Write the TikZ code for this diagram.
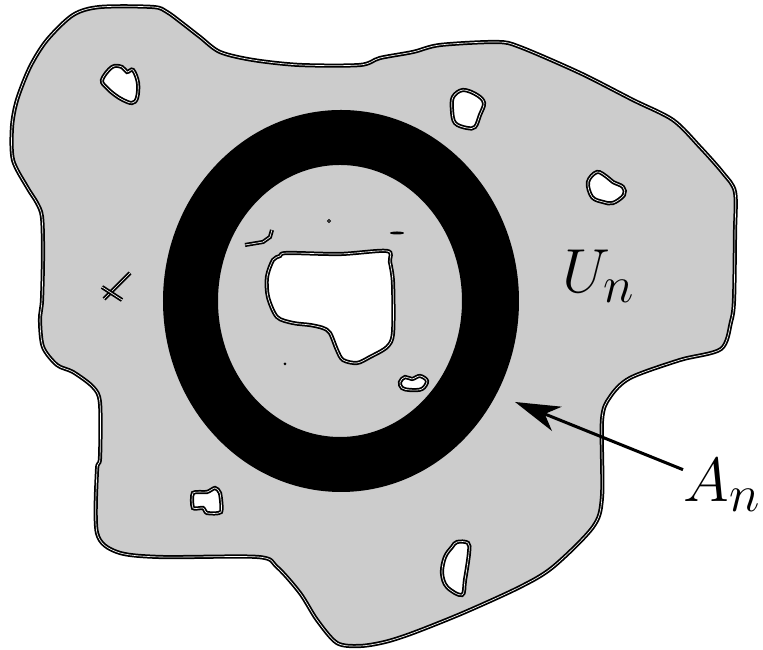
\documentclass[tikz,border=0pt]{standalone}
\usepackage{amsmath}
\usepackage{xcolor}
\usepackage{tikz}
\usetikzlibrary{
	arrows.meta,
	positioning
}
\definecolor{RegionGray}{RGB}{204,204,204}
\tikzset{
	rough edge/.style={draw=black, line width=0.7pt, double=white, double distance=0.25pt},
	gap/.style={rough edge, fill=white},
	label font/.style={inner sep=0pt, anchor=base west, font=\fontsize{29.5}{35}\selectfont}
}

\begin{document}
\begin{tikzpicture}[x=0.4pt, y=-0.4pt]
		\useasboundingbox (0,0) rectangle (763,650);
		\draw[rough edge, fill=RegionGray] plot[smooth cycle, tension=0.5] coordinates {
			(47,40) (73,15) (100,7) (153,7) (167,12) (182,23) (200,37) (220,52) (253,60) (300,65)
			(360,65) (380,58) (413,52) (440,45) (497,42) (520,47) (580,73) (633,100) (673,120)
			(700,147) (723,173) (735,192) (735,233) (734,300) (731,322) (721,349) (680,360)
			(630,378) (610,397) (602,420) (602,497) (593,527) (553,567) (520,587) (463,613)
			(413,633) (385,642) (360,646) (337,643) (317,620) (300,593) (277,567) (258,557)
			(160,557) (117,552) (97,533) (97,470) (100,458) (100,403) (93,387) (73,372) (57,365)
			(43,347) (40,320) (42,300) (43,253) (42,217) (37,203) (27,187) (13,160) (12,127)
			(17,100) (30,67)};
		\fill[black, even odd rule] (341,301) ellipse (178 and 191) (340,301) ellipse (122 and 136);
		% holes in the outer part
		\draw[gap] plot[smooth cycle, tension=0.6] coordinates {
			(102,80) (112,67) (122,67) (127,72) (133,70) (138,83) (137,98) (132,103) (123,100) (115,95) (107,88)};
		\draw[gap] plot[smooth cycle, tension=0.6] coordinates {
			(453,97) (463,90) (477,95) (484,103) (480,115) (475,127) (467,128) (455,123) (452,110)};
		\draw[gap] plot[smooth cycle, tension=0.6] coordinates {
			(588,182) (597,172) (607,177) (613,182) (623,187) (624,195) (613,203) (603,202) (592,197)};
		\draw[gap] plot[smooth cycle, tension=0.4] coordinates {
			(193,493) (207,492) (215,488) (220,493) (221,512) (207,513) (203,508) (193,508)};
		\draw[gap] plot[smooth cycle, tension=0.6] coordinates {
			(457,542) (468,543) (469,553) (465,580) (462,595) (447,587) (442,573) (445,557) (452,547)};
		\draw[rough edge] (130,273) -- (104,299);
		\draw[rough edge] (102,287) -- (122,300);
		% holes in the inner part
		\draw[gap] plot[smooth cycle, tension=0.5] coordinates {
			(280,256) (287,253) (340,254) (387,251) (390,262) (393,283) (393,333) (387,347) (370,357)
			(357,363) (343,360) (337,350) (330,333) (323,328) (310,325) (293,323) (277,317) (268,297)
			(267,277) (273,260)};
		\draw[gap] plot[smooth cycle, tension=0.6] coordinates {
			(400,382) (405,377) (412,379) (420,376) (427,381) (422,389) (410,390) (402,388)};
		\draw[rough edge] (245,245) -- (263,242) -- (270,237) -- (272,230);
		\fill (397,233) ellipse (7 and 1.5);
		\draw[line width=0.4pt] (329,221) circle (1.5);
		\fill (285,364) circle (1.5);
		% labels
		\node[label font] (Un) at (562,293) {$U_n$};
		\node[label font] (An) at (683,502) {$A_n$};
		\coordinate (annulus) at (515,402);
		\draw[line width=1.2pt, -{Stealth[length=18pt, width=10.4pt, inset=5.2pt]}] (An) -- (annulus);
	\end{tikzpicture}
\end{document}
